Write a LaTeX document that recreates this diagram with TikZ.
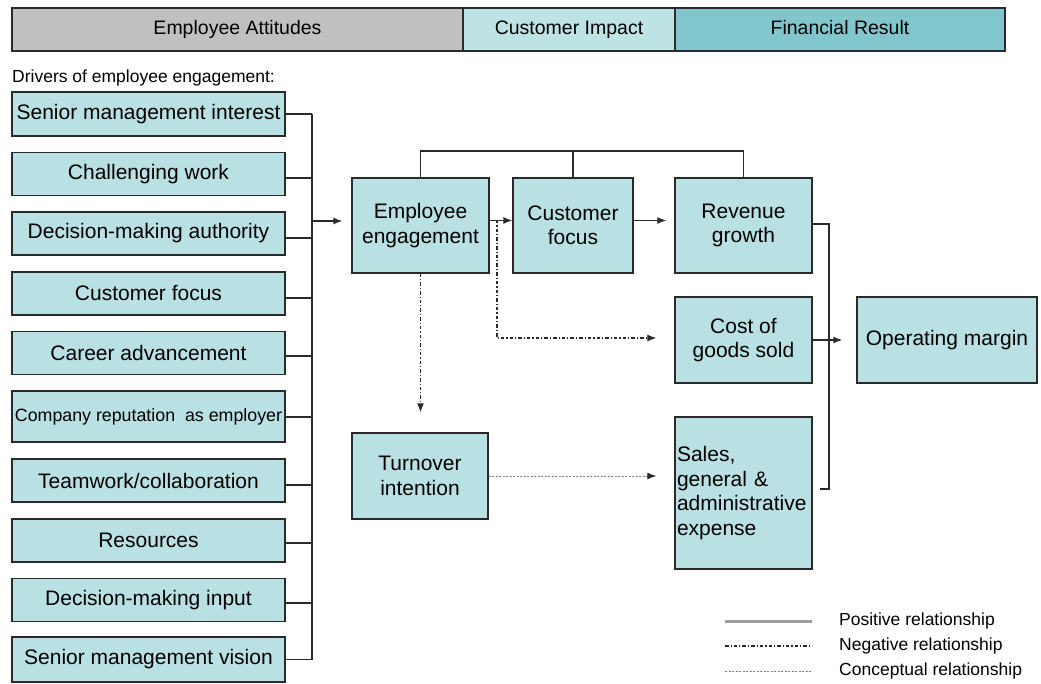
\documentclass[tikz,border=0pt]{standalone}
\usepackage{fontspec}
\setmainfont{Liberation Sans}
\usetikzlibrary{arrows.meta}
\definecolor{boxfill}{HTML}{B9E0E3}
\definecolor{hgray}{HTML}{C0C0C0}
\definecolor{hlight}{HTML}{BDE3E5}
\definecolor{hteal}{HTML}{80C6CC}
\definecolor{linec}{HTML}{2A2A2A}
\begin{document}
\begin{tikzpicture}[x=1pt,y=-1pt,
  box/.style={draw=linec, line width=1.3pt, fill=boxfill, text=black,
    font=\fontsize{21}{24.5}\selectfont, align=center, inner sep=2pt},
  lbox/.style={box, minimum width=273pt, minimum height=43pt},
  hdr/.style={draw=linec, line width=1.6pt, minimum height=43pt, text=black,
    text height=14pt, text depth=4pt, font=\fontsize{19.5}{22}\selectfont},
  posline/.style={draw=linec, line width=1.3pt},
  arr/.style={-{Latex[length=9pt,width=7pt,color=linec]}},
  negline/.style={draw=linec, line width=1.1pt, dash pattern=on 3.5pt off 2pt on 1.2pt off 2pt},
  conline/.style={draw=gray, line width=1pt, dash pattern=on 2.2pt off 1.3pt},
  legtxt/.style={anchor=west, inner sep=0pt, text=black, font=\fontsize{17.5}{20}\selectfont}]
\useasboundingbox (0,0) rectangle (1041,684);

% header
\node[hdr, fill=hgray, minimum width=451pt] (h1) at (237.5,29.5) {Employee Attitudes};
\node[hdr, fill=hlight, minimum width=212pt] (h2) at (569,29.5) {Customer Impact};
\node[hdr, fill=hteal, minimum width=330pt] (h3) at (840,29.5) {Financial Result};

\node[anchor=west, inner sep=0pt, font=\fontsize{17.5}{20}\selectfont] (drv) at (12,78) {Drivers of employee engagement:};

% left drivers
\node[lbox, minimum height=44pt] (b1) at (148.5,114) {Senior management interest};
\node[lbox] (b2) at (148.5,174) {Challenging work};
\node[lbox] (b3) at (148.5,233.5) {Decision-making authority};
\node[lbox] (b4) at (148.5,293.5) {Customer focus};
\node[lbox] (b5) at (148.5,353) {Career advancement};
\node[lbox, minimum height=51pt, font=\fontsize{17.8}{20}\selectfont] (b6) at (148.5,416.5) {Company reputation\ \ as employer};
\node[lbox] (b7) at (148.5,480.5) {Teamwork/collaboration};
\node[lbox] (b8) at (148.5,540.5) {Resources};
\node[lbox] (b9) at (148.5,600) {Decision-making input};
\node[lbox, minimum height=45pt] (b10) at (148.5,659.5) {Senior management vision};

\coordinate (bus) at (312,114);
\foreach \n/\dy in {b1/0,b2/4,b3/4.5,b4/4.5,b5/3,b6/0.5,b7/4.5,b8/2.5,b9/3,b10/0}
  \draw[posline] ([yshift=-\dy pt]\n.east) -- ([yshift=-\dy pt]\n.east -| bus);
\draw[posline] (b1.east -| bus) -- (b10.east -| bus);

% main boxes
\node[box, minimum width=137pt, minimum height=95pt] (EE) at (420.5,225.5) {Employee\\engagement};
\node[box, minimum width=120pt, minimum height=95pt] (CF) at (573,225.5) {Customer\\focus};
\node[box, minimum width=137pt, minimum height=95pt] (RG) at (743.5,225.5) {Revenue\\growth};
\node[box, minimum width=137pt, minimum height=86pt] (CG) at (743.5,340) {Cost of\\goods sold};
\node[box, minimum width=180pt, minimum height=86pt] (OM) at (947,340) {Operating margin};
\node[box, minimum width=137pt, minimum height=152pt, align=left, text width=133pt, inner sep=1pt] (SG) at (743.5,493) {Sales,\\general \&\\administrative\\expense};
\node[box, minimum width=136pt, minimum height=86pt] (TI) at (420,476) {Turnover\\intention};

\coordinate (busout) at (312,221);
\draw[posline,arr,shorten >=9pt] (busout) -- (busout -| EE.west);

% top connector
\coordinate (top) at (0,151);
\draw[posline] (EE.north) -- (EE.north |- top) -- (RG.north |- top) -- (RG.north);
\draw[posline] (CF.north) -- (CF.north |- top);

\draw[posline,arr] ([yshift=5pt]EE.east) -- ([yshift=5pt]CF.west);
\draw[posline,arr,shorten >=8pt] ([yshift=5pt]CF.east) -- ([yshift=5pt]RG.west);

% right bus
\coordinate (rbus) at (829,224);
\draw[posline] ([yshift=1.5pt]RG.east) -- ([yshift=1.5pt]RG.east -| rbus) -- ([yshift=4pt]SG.east -| rbus) -- ([xshift=7pt,yshift=4pt]SG.east);
\draw[posline,arr,shorten >=14pt] (CG.east) -- (OM.west);

% negative relationships
\coordinate (nstart) at (497,220);
\draw[negline,arr,shorten >=18pt] (nstart) |- ([yshift=2pt]CG.west);
\draw[negline,arr,shorten >=20pt] (EE.south) -- (EE.south |- TI.north);

% conceptual
\draw[conline,arr,shorten >=18pt] (TI.east) -- (TI.east -| SG.west);

% legend
\coordinate (l1) at (725,621); \coordinate (l1e) at (812,621);
\coordinate (l2) at (725,646); \coordinate (l2e) at (812,646);
\coordinate (l3) at (725,671); \coordinate (l3e) at (812,671);
\draw[line width=3pt, draw=gray!75] (l1) -- (l1e);
\draw[negline] (l2) -- (l2e);
\draw[conline] (l3) -- (l3e);
\node[legtxt] (t1) at (839,621) {Positive relationship};
\node[legtxt] (t2) at (839,646) {Negative relationship};
\node[legtxt] (t3) at (839,671) {Conceptual relationship};
\end{tikzpicture}
\end{document}
